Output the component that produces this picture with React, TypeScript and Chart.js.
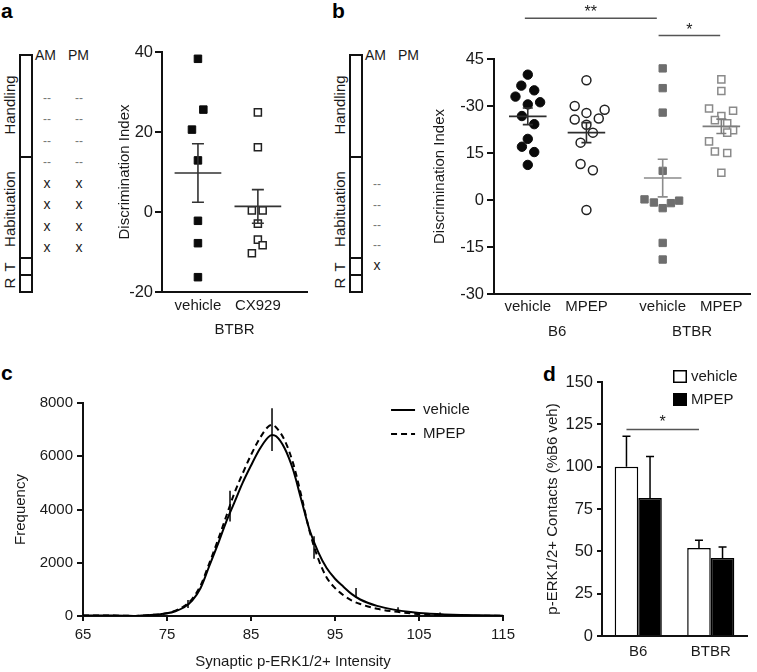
import React, { useEffect, useRef } from 'react';
import { Chart, registerables } from 'chart.js';

Chart.register(...registerables);

const FONT_FAMILY = "'Liberation Sans', Arial, Helvetica, sans-serif";
const TEXT = '#1a1a1a';
const AXIS = '#111111';

// ---------------- Panel a data ----------------
const aCategories = ['vehicle', 'CX929'];
const aGroupLabel = 'BTBR';
const aYTitle = 'Discrimination Index';
const aVehicle = [38.3, 25.6, 20.6, 12.9, -2.2, -7.8, -16.3];
const aVehicleJitter = [0, 0.09, -0.1, 0, 0, 0, 0];
const aCX929 = [24.9, 16.2, 0.4, 0.4, -2.9, -6.9, -8.3, -10.3];
const aCX929Jitter = [0, 0, -0.1, 0.08, 0, 0, 0.08, -0.1];
const aMeans = [9.75, 1.4];
const aSems = [7.3, 4.2];

// ---------------- Panel b data ----------------
const bCategories = ['vehicle', 'MPEP', 'vehicle', 'MPEP'];
const bCategoryPos = [1, 2, 3.3, 4.3];
const bGroups = ['B6', 'BTBR'];
const bGroupPos = [1.5, 3.8];
const bYTitle = 'Discrimination Index';
const bYTickValues = [-30, -15, 0, 15, 30, 45];
const bYTickLabels = ['-30', '-15', '0', '15', '-30', '45'];
const bB6Vehicle = [40.0, 36.5, 35.0, 33.0, 30.5, 31.2, 26.8, 24.2, 19.5, 17.0, 15.3, 11.2];
const bB6VehicleJitter = [0, -0.11, 0.11, -0.21, 0, 0.21, -0.1, 0.11, 0, -0.1, 0.11, 0];
const bB6MPEP = [38.2, 30.0, 27.8, 28.8, 25.7, 26.0, 24.0, 21.5, 18.3, 11.5, 9.5, -3.2];
const bB6MPEPJitter = [0, -0.2, 0, 0.31, -0.2, 0.21, 0, 0.11, -0.1, -0.1, 0.11, 0];
const bBTBRVehicle = [42.0, 35.7, 27.9, 9.3, 0.2, -0.8, -2.6, -1.0, -0.2, -13.7, -19.0];
const bBTBRVehicleJitter = [0, 0, 0, 0, -0.31, -0.15, 0, 0.14, 0.28, 0, 0];
const bBTBRMPEP = [38.5, 34.8, 29.2, 28.5, 26.8, 25.5, 24.5, 22.3, 21.5, 18.7, 15.5, 15.0, 8.7];
const bBTBRMPEPJitter = [0, 0, -0.21, 0.2, 0, -0.11, 0.1, 0.2, 0.1, -0.21, -0.11, 0.1, 0];
const bMeans = [26.7, 21.5, 7.0, 23.5];
const bSems = [2.65, 3.2, 6.0, 2.3];
const bBrackets = [
  { from: 0.95, to: 3.2, y: 58, text: '**' },
  { from: 3.23, to: 4.28, y: 52.5, text: '*' },
];

// ---------------- Panel c data ----------------
const cXTitle = 'Synaptic p-ERK1/2+ Intensity';
const cYTitle = 'Frequency';
const cSeriesLabels = ['vehicle', 'MPEP'];
const cIntensity = [65, 68, 70, 71, 72, 74, 75, 76, 77, 78, 79, 80, 81, 82, 83, 84, 85, 86, 87, 87.5, 88, 89, 90, 91, 92, 93, 94, 95, 96, 97, 98, 100, 102, 104, 106, 108, 110, 112, 115];
const cVehicle = [20, 15, 10, 0, 20, 60, 100, 180, 320, 580, 1050, 1850, 2650, 3500, 4250, 5000, 5650, 6250, 6700, 6800, 6750, 6300, 5500, 4350, 3200, 2400, 1800, 1400, 1100, 820, 620, 380, 240, 150, 90, 60, 40, 25, 10];
const cMPEP = [20, 15, 10, 0, 20, 60, 100, 200, 360, 640, 1150, 1950, 2800, 3700, 4600, 5350, 6050, 6650, 7100, 7180, 7080, 6600, 5750, 4500, 3150, 2150, 1450, 1050, 780, 580, 450, 270, 170, 100, 50, 30, 20, 10, 5];
const cErrX = [77.5, 82.5, 87.5, 92.5, 97.5, 102.5, 107.5];
const cErrLow = [300, 3550, 6200, 2150, 700, 170, 40];
const cErrHigh = [600, 4700, 7800, 3000, 1050, 330, 130];

// ---------------- Panel d data ----------------
const dCategories = ['B6', 'BTBR'];
const dSeriesLabels = ['vehicle', 'MPEP'];
const dYTitle = 'p-ERK1/2+ Contacts (%B6 veh)';
const dVehicle = [100, 52];
const dMPEP = [81.5, 46];
const dVehicleErr = [18, 4.6];
const dMPEPErr = [24.5, 6.5];
const dBracket = { y: 122, text: '*' };

// ---------------- helpers ----------------
const font = (size = 15) => ({ family: FONT_FAMILY, size });

function meanSemPlugin(positions: number[], means: number[], sems: number[], colors: string[], halfWidth: number, cap: number) {
  return {
    id: 'meanSem',
    afterDatasetsDraw(chart: any) {
      const { ctx } = chart;
      const x = chart.scales.x;
      const y = chart.scales.y;
      ctx.save();
      means.forEach((m, i) => {
        const cx = x.getPixelForValue(positions[i]);
        const hw = x.getPixelForValue(positions[i] + halfWidth) - cx;
        const ym = y.getPixelForValue(m);
        const yt = y.getPixelForValue(m + sems[i]);
        const yb = y.getPixelForValue(m - sems[i]);
        ctx.strokeStyle = colors[i];
        ctx.lineWidth = 1.6;
        ctx.beginPath();
        ctx.moveTo(cx - hw, ym);
        ctx.lineTo(cx + hw, ym);
        ctx.moveTo(cx, yt);
        ctx.lineTo(cx, yb);
        ctx.moveTo(cx - cap, yt);
        ctx.lineTo(cx + cap, yt);
        ctx.moveTo(cx - cap, yb);
        ctx.lineTo(cx + cap, yb);
        ctx.stroke();
      });
      ctx.restore();
    },
  };
}

function bracketPlugin(brackets: { from: number; to: number; y: number; text: string }[]) {
  return {
    id: 'brackets',
    afterDraw(chart: any) {
      const { ctx } = chart;
      const x = chart.scales.x;
      const y = chart.scales.y;
      ctx.save();
      brackets.forEach((b) => {
        const x1 = x.getPixelForValue(b.from);
        const x2 = x.getPixelForValue(b.to);
        const yy = y.getPixelForValue(b.y);
        ctx.strokeStyle = '#555';
        ctx.lineWidth = 1.5;
        ctx.beginPath();
        ctx.moveTo(x1, yy);
        ctx.lineTo(x2, yy);
        ctx.stroke();
        ctx.fillStyle = TEXT;
        ctx.font = `16px ${FONT_FAMILY}`;
        ctx.textAlign = 'center';
        ctx.textBaseline = 'alphabetic';
        ctx.fillText(b.text, (x1 + x2) / 2, yy - 1);
      });
      ctx.restore();
    },
  };
}

function groupLabelPlugin(labels: string[], positions: number[], offset: number) {
  return {
    id: 'groupLabels',
    afterDraw(chart: any) {
      const { ctx, chartArea } = chart;
      const x = chart.scales.x;
      ctx.save();
      ctx.fillStyle = TEXT;
      ctx.font = `15px ${FONT_FAMILY}`;
      ctx.textAlign = 'center';
      ctx.textBaseline = 'middle';
      labels.forEach((l, i) => ctx.fillText(l, x.getPixelForValue(positions[i]), chartArea.bottom + offset));
      ctx.restore();
    },
  };
}

const lineLegendPlugin = {
  id: 'lineLegend',
  afterDraw(chart: any) {
    const { ctx, chartArea } = chart;
    const x0 = chartArea.right - 112;
    const y0 = chartArea.top + 7;
    chart.data.datasets.forEach((ds: any, i: number) => {
      const yy = y0 + i * 24;
      ctx.save();
      ctx.strokeStyle = ds.borderColor;
      ctx.lineWidth = 2;
      ctx.setLineDash(ds.borderDash || []);
      ctx.beginPath();
      ctx.moveTo(x0, yy);
      ctx.lineTo(x0 + 24, yy);
      ctx.stroke();
      ctx.setLineDash([]);
      ctx.fillStyle = TEXT;
      ctx.font = `15px ${FONT_FAMILY}`;
      ctx.textBaseline = 'middle';
      ctx.fillText(ds.label, x0 + 32, yy);
      ctx.restore();
    });
  },
};

const lineErrorPlugin = {
  id: 'lineErrors',
  afterDatasetsDraw(chart: any) {
    const { ctx } = chart;
    const x = chart.scales.x;
    const y = chart.scales.y;
    ctx.save();
    ctx.strokeStyle = '#000';
    ctx.lineWidth = 1.5;
    ctx.beginPath();
    cErrX.forEach((v, i) => {
      const px = x.getPixelForValue(v);
      ctx.moveTo(px, y.getPixelForValue(cErrLow[i]));
      ctx.lineTo(px, y.getPixelForValue(cErrHigh[i]));
    });
    ctx.stroke();
    ctx.restore();
  },
};

const barErrorPlugin = {
  id: 'barErrors',
  afterDatasetsDraw(chart: any) {
    const { ctx } = chart;
    const y = chart.scales.y;
    const errs = [dVehicleErr, dMPEPErr];
    ctx.save();
    ctx.strokeStyle = '#000';
    ctx.lineWidth = 1.5;
    chart.data.datasets.forEach((ds: any, i: number) => {
      const meta = chart.getDatasetMeta(i);
      meta.data.forEach((el: any, j: number) => {
        const top = y.getPixelForValue(ds.data[j] + errs[i][j]);
        ctx.beginPath();
        ctx.moveTo(el.x, el.y);
        ctx.lineTo(el.x, top);
        ctx.moveTo(el.x - 4, top);
        ctx.lineTo(el.x + 4, top);
        ctx.stroke();
      });
    });
    ctx.restore();
  },
};

const barBracketPlugin = {
  id: 'barBracket',
  afterDraw(chart: any) {
    const { ctx } = chart;
    const y = chart.scales.y;
    const meta = chart.getDatasetMeta(0);
    const x1 = meta.data[0].x;
    const x2 = meta.data[1].x;
    const yy = y.getPixelForValue(dBracket.y);
    ctx.save();
    ctx.strokeStyle = '#555';
    ctx.lineWidth = 1.5;
    ctx.beginPath();
    ctx.moveTo(x1, yy);
    ctx.lineTo(x2, yy);
    ctx.stroke();
    ctx.fillStyle = TEXT;
    ctx.font = `16px ${FONT_FAMILY}`;
    ctx.textAlign = 'center';
    ctx.textBaseline = 'alphabetic';
    ctx.fillText(dBracket.text, (x1 + x2) / 2, yy - 2);
    ctx.restore();
  },
};

const boxLegendPlugin = {
  id: 'boxLegend',
  afterDraw(chart: any) {
    const { ctx, chartArea } = chart;
    const x0 = chartArea.right - 74;
    const y0 = chartArea.top - 12;
    chart.data.datasets.forEach((ds: any, i: number) => {
      const yy = y0 + i * 23;
      ctx.save();
      ctx.fillStyle = ds.backgroundColor;
      ctx.fillRect(x0, yy, 14, 13);
      ctx.strokeStyle = '#000';
      ctx.lineWidth = 1.5;
      ctx.strokeRect(x0 + 0.75, yy + 0.75, 12.5, 11.5);
      ctx.fillStyle = TEXT;
      ctx.font = `15px ${FONT_FAMILY}`;
      ctx.textBaseline = 'middle';
      ctx.fillText(ds.label, x0 + 18, yy + 6.5);
      ctx.restore();
    });
  },
};

function yAxis(min: number, max: number, step: number, width: number, title: string, titlePad: number, tickLen: number, tickPad: number, tickSize: number, cb?: (v: number) => string) {
  return {
    type: 'linear',
    min,
    max,
    ticks: { stepSize: step, padding: tickPad, font: font(tickSize), color: TEXT, callback: cb || ((v: number) => String(v)) },
    grid: { drawOnChartArea: false, drawTicks: true, tickLength: tickLen, color: AXIS, lineWidth: 2 },
    border: { color: AXIS, width: 2 },
    title: { display: true, text: title, font: font(15), color: TEXT, padding: { top: titlePad, bottom: 0 } },
    afterFit: (s: any) => {
      s.width = width;
    },
  };
}

// ---------------- chart configs ----------------
function makeA(): any {
  return {
    type: 'scatter',
    data: {
      datasets: [
        {
          label: aCategories[0],
          data: aVehicle.map((v, i) => ({ x: 1 + aVehicleJitter[i], y: v })),
          pointStyle: 'rect',
          pointRadius: 5.3,
          pointBackgroundColor: '#0a0a0a',
          pointBorderColor: '#0a0a0a',
          pointBorderWidth: 1,
        },
        {
          label: aCategories[1],
          data: aCX929.map((v, i) => ({ x: 2 + aCX929Jitter[i], y: v })),
          pointStyle: 'rect',
          pointRadius: 5,
          pointBackgroundColor: '#ffffff',
          pointBorderColor: '#222',
          pointBorderWidth: 1.5,
        },
      ],
    },
    options: {
      animation: false,
      responsive: false,
      layout: { padding: { left: 0, top: 52, right: 13, bottom: 0 } },
      plugins: { legend: { display: false }, tooltip: { enabled: false } },
      scales: {
        x: {
          type: 'linear',
          min: 0.4,
          max: 2.82,
          afterBuildTicks: (s: any) => {
            s.ticks = aCategories.map((_, i) => ({ value: i + 1 }));
          },
          ticks: { callback: (v: number) => aCategories[Math.round(v) - 1], padding: 5, font: font(15), color: TEXT, maxRotation: 0, autoSkip: false },
          grid: { display: false, drawTicks: false },
          border: { color: AXIS, width: 2 },
          title: { display: true, text: aGroupLabel, font: font(15), color: TEXT, padding: { top: 0, bottom: 1 } },
          afterFit: (s: any) => {
            s.height = 48;
          },
        },
        y: yAxis(-20, 40, 20, 67, aYTitle, 21, 7, 2, 16.5),
      },
    },
    plugins: [meanSemPlugin([1, 2], aMeans, aSems, ['#333333', '#333333'], 0.39, 6)],
  };
}

function makeB(): any {
  const groups = [
    { values: bB6Vehicle, jitter: bB6VehicleJitter, style: 'circle', r: 4.7, fill: '#0a0a0a', stroke: '#0a0a0a', bw: 1 },
    { values: bB6MPEP, jitter: bB6MPEPJitter, style: 'circle', r: 4.5, fill: '#ffffff', stroke: '#222', bw: 1.5 },
    { values: bBTBRVehicle, jitter: bBTBRVehicleJitter, style: 'rect', r: 5.2, fill: '#6e6e6e', stroke: '#6e6e6e', bw: 1 },
    { values: bBTBRMPEP, jitter: bBTBRMPEPJitter, style: 'rect', r: 5, fill: '#ffffff', stroke: '#8a8a8a', bw: 1.5 },
  ];
  return {
    type: 'scatter',
    data: {
      datasets: groups.map((g, gi) => ({
        label: bGroups[gi < 2 ? 0 : 1] + ' ' + bCategories[gi],
        data: g.values.map((v, i) => ({ x: bCategoryPos[gi] + g.jitter[i], y: v })),
        pointStyle: g.style,
        pointRadius: g.r,
        pointBackgroundColor: g.fill,
        pointBorderColor: g.stroke,
        pointBorderWidth: g.bw,
      })),
    },
    options: {
      animation: false,
      responsive: false,
      layout: { padding: { left: 0, top: 59, right: 5, bottom: 0 } },
      plugins: { legend: { display: false }, tooltip: { enabled: false } },
      scales: {
        x: {
          type: 'linear',
          min: 0.424,
          max: 4.797,
          afterBuildTicks: (s: any) => {
            s.ticks = bCategoryPos.map((p) => ({ value: p }));
          },
          ticks: {
            callback: (v: number) => bCategories[bCategoryPos.indexOf(v)],
            padding: 4,
            font: font(15),
            color: TEXT,
            maxRotation: 0,
            autoSkip: false,
          },
          grid: { display: false, drawTicks: false },
          border: { color: AXIS, width: 2 },
          afterFit: (s: any) => {
            s.height = 56;
          },
        },
        y: yAxis(-30, 45, 15, 74, bYTitle, 11, 7, 3, 16.5, (v: number) => {
          const k = bYTickValues.indexOf(v);
          return k >= 0 ? bYTickLabels[k] : String(v);
        }),
      },
    },
    plugins: [
      meanSemPlugin(bCategoryPos, bMeans, bSems, ['#2e2e2e', '#2e2e2e', '#8c8c8c', '#7c7c7c'], 0.32, 5),
      bracketPlugin(bBrackets),
      groupLabelPlugin(bGroups, bGroupPos, 38),
    ],
  };
}

function makeC(): any {
  return {
    type: 'line',
    data: {
      datasets: [
        {
          label: cSeriesLabels[0],
          data: cIntensity.map((x, i) => ({ x, y: cVehicle[i] })),
          borderColor: '#000',
          borderWidth: 2,
          pointRadius: 0,
          fill: false,
          cubicInterpolationMode: 'monotone',
        },
        {
          label: cSeriesLabels[1],
          data: cIntensity.map((x, i) => ({ x, y: cMPEP[i] })),
          borderColor: '#000',
          borderWidth: 2,
          borderDash: [6, 4],
          pointRadius: 0,
          fill: false,
          cubicInterpolationMode: 'monotone',
        },
      ],
    },
    options: {
      animation: false,
      responsive: false,
      layout: { padding: { left: 0, top: 43, right: 15, bottom: 0 } },
      plugins: { legend: { display: false }, tooltip: { enabled: false } },
      scales: {
        x: {
          type: 'linear',
          min: 65,
          max: 115,
          ticks: { stepSize: 10, padding: 5, font: font(15), color: TEXT, maxRotation: 0, callback: (v: number) => String(v) },
          grid: { drawOnChartArea: false, drawTicks: true, tickLength: 5, color: AXIS, lineWidth: 2 },
          border: { color: AXIS, width: 2 },
          title: { display: true, text: cXTitle, font: font(15), color: TEXT, padding: { top: 0, bottom: 1 } },
          afterFit: (s: any) => {
            s.height = 56;
          },
        },
        y: yAxis(0, 8000, 2000, 83, cYTitle, 12, 6, 4, 15),
      },
    },
    plugins: [lineErrorPlugin, lineLegendPlugin],
  };
}

function makeD(): any {
  return {
    type: 'bar',
    data: {
      labels: dCategories,
      datasets: [
        {
          label: dSeriesLabels[0],
          data: dVehicle,
          backgroundColor: '#ffffff',
          borderColor: '#000',
          borderWidth: 1.5,
          categoryPercentage: 0.65,
          barPercentage: 1,
        },
        {
          label: dSeriesLabels[1],
          data: dMPEP,
          backgroundColor: '#000000',
          borderColor: '#000',
          borderWidth: 1.5,
          categoryPercentage: 0.65,
          barPercentage: 1,
        },
      ],
    },
    options: {
      animation: false,
      responsive: false,
      layout: { padding: { left: 0, top: 27, right: 10, bottom: 0 } },
      plugins: { legend: { display: false }, tooltip: { enabled: false } },
      scales: {
        x: {
          type: 'category',
          ticks: { padding: 7, font: font(15), color: TEXT, maxRotation: 0 },
          grid: { display: false, drawTicks: false },
          border: { color: AXIS, width: 2 },
          afterFit: (s: any) => {
            s.height = 36;
          },
        },
        y: yAxis(0, 150, 25, 72, dYTitle, 14, 5, 4, 16.5),
      },
    },
    plugins: [barErrorPlugin, barBracketPlugin, boxLegendPlugin],
  };
}

// ---------------- components ----------------
function ChartBox({ left, top, width, height, make }: { left: number; top: number; width: number; height: number; make: () => any }) {
  const ref = useRef<HTMLCanvasElement | null>(null);
  useEffect(() => {
    const chart = new Chart(ref.current as HTMLCanvasElement, make());
    return () => chart.destroy();
  }, []);
  return (
    <canvas
      ref={ref}
      width={width}
      height={height}
      style={{ position: 'absolute', left, top, width, height }}
    />
  );
}

const textBase: React.CSSProperties = {
  position: 'absolute',
  fontFamily: FONT_FAMILY,
  color: TEXT,
  whiteSpace: 'nowrap',
  lineHeight: 1,
};

function Centered({ x, y, size = 15, rotate = 0, color = TEXT, children }: any) {
  return (
    <div
      style={{
        ...textBase,
        left: x,
        top: y,
        fontSize: size,
        color,
        transform: `translate(-50%, -50%) rotate(${rotate}deg)`,
      }}
    >
      {children}
    </div>
  );
}

const scheduleLabels = [
  { text: 'Handling', y: 105 },
  { text: 'Habituation', y: 209 },
  { text: 'T', y: 267 },
  { text: 'R', y: 283 },
];

function Schedule({ dx, dashCols, dashRows, crossCols, crossRows }: any) {
  return (
    <>
      <div
        style={{
          position: 'absolute',
          left: 19 + dx,
          top: 54,
          width: 14,
          height: 239,
          border: '2px solid #111',
          boxSizing: 'border-box',
        }}
      />
      {[157, 258, 275].map((y) => (
        <div key={y} style={{ position: 'absolute', left: 19 + dx, top: y - 1, width: 14, height: 2, background: '#111' }} />
      ))}
      {scheduleLabels.map((l) => (
        <Centered key={l.text} x={9 + dx} y={l.y} rotate={-90}>
          {l.text}
        </Centered>
      ))}
      <div style={{ ...textBase, left: 35 + dx, top: 48, fontSize: 14 }}>AM</div>
      <div style={{ ...textBase, left: 68 + dx, top: 48, fontSize: 14 }}>PM</div>
      {dashCols.map((cx: number) =>
        dashRows.map((ry: number) => (
          <Centered key={`d${cx}-${ry}`} x={cx + dx} y={ry} size={12} color="#777">
            --
          </Centered>
        ))
      )}
      {crossCols.map((cx: number) =>
        crossRows.map((ry: number) => (
          <Centered key={`x${cx}-${ry}`} x={cx + dx} y={ry} size={14}>
            x
          </Centered>
        ))
      )}
    </>
  );
}

function PanelLetter({ x, y, children }: any) {
  return (
    <div style={{ ...textBase, left: x, top: y, fontSize: 21, fontWeight: 'bold', lineHeight: '20px', color: '#000' }}>{children}</div>
  );
}

export default function App() {
  return (
    <div style={{ position: 'absolute', left: 0, top: 0, width: 757, height: 672, background: '#fff', overflow: 'hidden' }}>
      <PanelLetter x={1} y={1}>a</PanelLetter>
      <PanelLetter x={332} y={1}>b</PanelLetter>
      <PanelLetter x={1} y={363}>c</PanelLetter>
      <PanelLetter x={543} y={364}>d</PanelLetter>

      <Schedule dx={0} dashCols={[47, 79]} dashRows={[98, 119, 141, 162]} crossCols={[47, 79]} crossRows={[183, 204, 226, 247]} />
      <Schedule dx={330} dashCols={[47]} dashRows={[184, 205, 225, 245]} crossCols={[47]} crossRows={[265]} />

      <ChartBox left={95} top={0} width={225} height={340} make={makeA} />
      <ChartBox left={420} top={0} width={337} height={350} make={makeB} />
      <ChartBox left={0} top={360} width={520} height={312} make={makeC} />
      <ChartBox left={530} top={355} width={227} height={317} make={makeD} />
    </div>
  );
}
